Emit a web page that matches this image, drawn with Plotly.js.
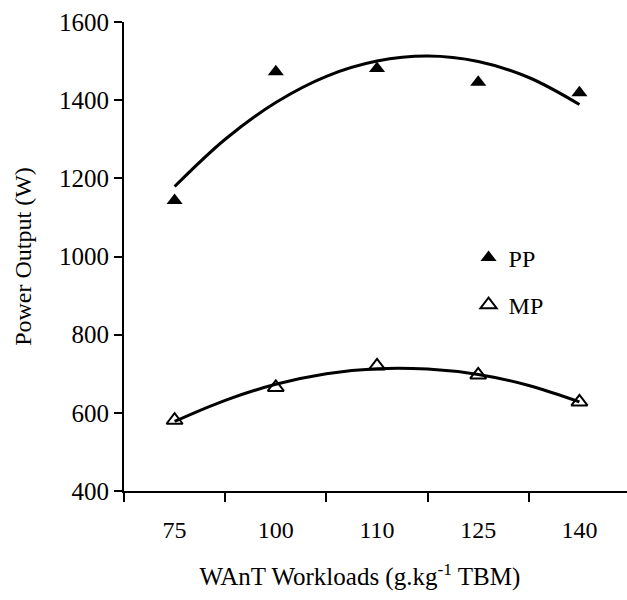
<!DOCTYPE html>
<html><head><meta charset="utf-8">
<script src="https://cdn.plot.ly/plotly-3.0.1.min.js"></script>
<style>html,body{margin:0;padding:0;background:#fff}#chart{width:627px;height:600px}</style>
</head><body><div id="chart"></div>
<script>
// Data
const categories = ["75", "100", "110", "125", "140"];
const catIndex = [0, 1, 2, 3, 4];
const ppValues = [1143, 1473, 1481, 1446, 1419];
const mpValues = [581, 665, 720, 697, 628];
// Trend curves (2nd-order polynomial trendlines) read at half-category steps
const trendX = [0, 0.5, 1, 1.5, 2, 2.5, 3, 3.5, 4];
const ppTrend = [1179, 1300, 1394, 1461, 1500, 1513, 1499, 1458, 1389];
const mpTrend = [578, 632, 673, 700, 713, 712, 698, 670, 628];
const yTicks = [400, 600, 800, 1000, 1200, 1400, 1600];
const categoryBoundaries = [-0.5, 0.5, 1.5, 2.5, 3.5, 4.5];

const font = {family: "'Liberation Serif', 'Times New Roman', serif", color: "#000"};
const traces = [
  {x: trendX, y: ppTrend, mode: "lines", line: {color: "#000", width: 3, shape: "spline"}, showlegend: false, hoverinfo: "skip"},
  {x: trendX, y: mpTrend, mode: "lines", line: {color: "#000", width: 3, shape: "spline"}, showlegend: false, hoverinfo: "skip"},
  {x: catIndex, y: ppValues, name: "PP", mode: "markers", legendgroup: "a",
   marker: {symbol: "triangle-up", size: 14, color: "#000"}},
  {x: catIndex, y: mpValues, name: "MP", mode: "markers", legendgroup: "b",
   marker: {symbol: "triangle-up-open", size: 14, color: "#000", line: {width: 2, color: "#000"}}}
];
const layout = {
  width: 627, height: 600,
  margin: {l: 124, r: 0, t: 22, b: 109},
  paper_bgcolor: "#fff", plot_bgcolor: "#fff",
  font: Object.assign({size: 24}, font),
  showlegend: true,
  legend: {x: 0.685, y: 0.545, xanchor: "left", yanchor: "top", bgcolor: "rgba(0,0,0,0)",
           font: Object.assign({size: 24}, font), tracegroupgap: 13, traceorder: "grouped",
           itemwidth: 30},
  xaxis: {
    range: [-0.5, 4.47], tickmode: "array", tickvals: catIndex, ticktext: categories,
    ticks: "", showgrid: false, zeroline: false, showline: true, linecolor: "#000", linewidth: 2,
    ticklabelstandoff: 16, tickfont: Object.assign({size: 24}, font),
    minor: {tickmode: "array", tickvals: categoryBoundaries, ticks: "outside", ticklen: 9, tickwidth: 2, tickcolor: "#000", showgrid: false},
    title: {text: "WAnT Workloads (g.kg<sup>-1</sup> TBM)&nbsp;&nbsp;&nbsp;&nbsp;&nbsp;", font: Object.assign({size: 25}, font), standoff: 26}
  },
  yaxis: {
    range: [400, 1600], tickmode: "array", tickvals: yTicks,
    ticks: "outside", ticklen: 8, tickwidth: 2, tickcolor: "#000",
    ticksuffix: "\u2002", tickfont: Object.assign({size: 25}, font),
    showgrid: false, zeroline: false, showline: true, linecolor: "#000", linewidth: 2,
    title: {text: "Power Output (W)", font: Object.assign({size: 24}, font), standoff: 21}
  }
};
Plotly.newPlot("chart", traces, layout, {displayModeBar: false, staticPlot: true});
</script></body></html>
